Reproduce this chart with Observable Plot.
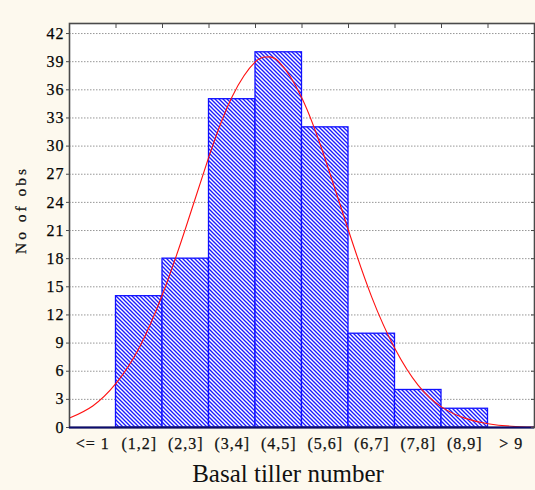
<!DOCTYPE html>
<html><head><meta charset="utf-8">
<script src="https://cdn.jsdelivr.net/npm/d3@7"></script>
<script src="https://cdn.jsdelivr.net/npm/@observablehq/plot@0.6"></script>
<style>
html,body{margin:0;padding:0;background:#fdf9ee;}
#chart svg{display:block;background:#fdf9ee;}
</style>
</head><body><div id="chart"></div>
<script>
// Bin labels and counts
const categories = ["<= 1","(1,2]","(2,3]","(3,4]","(4,5]","(5,6]","(6,7]","(7,8]","(8,9]","> 9"];
const counts = [0, 14, 18, 35, 40, 32, 10, 4, 2, 0];
const yTicks = [0, 3, 6, 9, 12, 15, 18, 21, 24, 27, 30, 33, 36, 39, 42];
const binEdges = [0, 1, 2, 3, 4, 5, 6, 7, 8, 9, 10];
const binCenters = [0.5, 1.5, 2.5, 3.5, 4.5, 5.5, 6.5, 7.5, 8.5, 9.5];
// Fitted normal curve
const curveX = [0, 0.5, 1, 1.5, 2, 2.5, 3, 3.5, 4, 4.25, 4.5, 5, 5.5, 6, 6.5, 7, 7.5, 8, 8.5, 9, 9.5, 10];
const curveY = [1.0, 2.3, 4.7, 8.5, 14.2, 21.3, 28.9, 35.3, 39.0, 39.5, 39.0, 35.1, 28.6, 21.0, 13.9, 8.4, 4.5, 2.2, 1.0, 0.4, 0.14, 0.05];

const bars = categories.map((c, i) => ({label: c, lo: binEdges[i], hi: binEdges[i + 1], count: counts[i]})).filter(d => d.count > 0);
const curve = curveX.map((x, i) => ({x, y: curveY[i]}));

const font = "'Liberation Serif', 'Times New Roman', serif";

const plot = Plot.plot({
  width: 535,
  height: 490,
  marginLeft: 69,
  marginRight: 1,
  marginTop: 23,
  marginBottom: 63,
  style: {fontFamily: font, fontSize: "16px", background: "#fdf9ee", overflow: "visible"},
  x: {domain: [0, 10]},
  y: {domain: [0, 43.07]},
  marks: [
    Plot.frame({fill: "white", stroke: null}),
    Plot.gridY(yTicks.filter(t => t > 0), {stroke: "#8c8c8c", strokeOpacity: 0.9, strokeDasharray: "1.5,1.5"}),
    Plot.rectY(bars, {x1: "lo", x2: "hi", y: "count", fill: "url(#hatch)", stroke: "#1010ff", strokeWidth: 1.3}),
    Plot.line(curve, {x: "x", y: "y", stroke: "#ff1010", strokeWidth: 1.1, curve: "natural", clip: true}),
    Plot.frame({stroke: "#4a4a4a", strokeWidth: 1.6}),
    Plot.ruleY([0], {stroke: "#0b0b6e", strokeWidth: 2}),
    Plot.axisY(yTicks, {anchor: "left", tickSize: 3, tickPadding: 2, fontSize: 16, fill: "#000", stroke: "#4a4a4a", label: null}),
    Plot.axisY(yTicks, {anchor: "right", tickSize: -4, tickFormat: () => "", stroke: "#4a4a4a", label: null}),
    Plot.axisX(binEdges.slice(1, -1), {anchor: "top", tickSize: -4, tickFormat: () => "", stroke: "#4a4a4a", label: null}),
    Plot.axisX(binCenters, {anchor: "bottom", tickSize: 0, tickPadding: 10, fontSize: 16, tickFormat: (d, i) => categories[i], fill: "#111", label: null})
  ]
});

const svg = d3.select(plot);
svg.selectAll('g[aria-label="y-axis tick label"], g[aria-label="x-axis tick label"]')
  .style("font-size", "16px")
  .style("font-family", font)
  .style("letter-spacing", "1px")
  .style("stroke", "#111")
  .style("stroke-width", "0.25px");
svg.insert("defs", ":first-child").html(
  `<pattern id="hatch" patternUnits="userSpaceOnUse" width="4" height="4">
     <rect width="4" height="4" fill="white"/>
     <path d="M-1,-1 L5,5 M3,-1 L5,1 M-1,3 L1,5" stroke="#1a1aff" stroke-width="1.35"/>
   </pattern>`
);
svg.append("text")
  .attr("transform", "translate(25.5,210) rotate(-90)")
  .attr("text-anchor", "middle")
  .style("font-family", font)
  .style("font-size", "15.5px")
  .style("letter-spacing", "3px")
  .style("stroke", "#111")
  .style("stroke-width", "0.25px")
  .attr("fill", "#111")
  .text("No of obs");
svg.append("text")
  .attr("x", 288)
  .attr("y", 482)
  .attr("text-anchor", "middle")
  .style("font-family", font)
  .style("font-size", "25px")
  .attr("fill", "#111")
  .text("Basal tiller number");

document.getElementById("chart").appendChild(plot);
</script>
</body></html>
